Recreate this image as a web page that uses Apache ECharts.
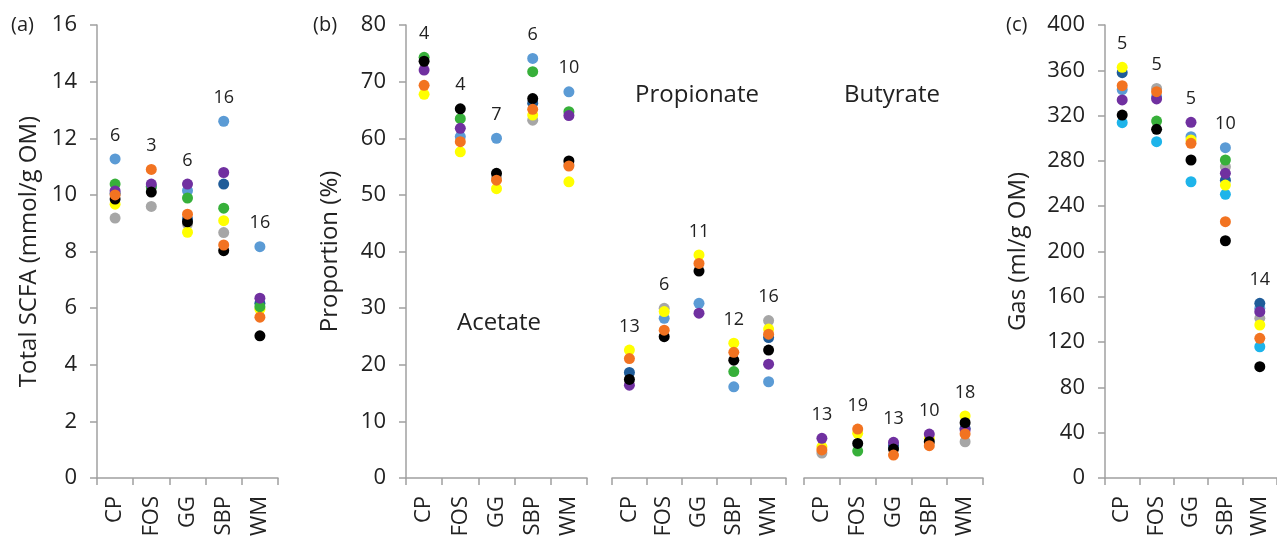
<!DOCTYPE html>
<html><head><meta charset="utf-8">
<script src="https://cdn.jsdelivr.net/npm/echarts@6/dist/echarts.min.js"></script>
<style>html,body{margin:0;padding:0;background:#fff}#c{width:1277px;height:545px}</style>
</head><body><div id="c"></div>
<script>
// ---------- data ----------
const categories = ['CP', 'FOS', 'GG', 'SBP', 'WM'];
// series order (drawing order, bottom -> top)
const groupNames = ['gray', 'cyan', 'lightblue', 'darkblue', 'yellow', 'green', 'purple', 'black', 'orange'];
const groupColors = ['#A6A6A6', '#1EB4EA', '#5B9BD5', '#1F5C99', '#FFFF00', '#37B03A', '#7030A0', '#000000', '#F27321'];

// (a) Total SCFA (mmol/g OM): rows follow groupNames, columns follow categories
const scfaData = [
  [9.18, 9.59, 8.97, 8.67, null],
  [null, null, null, null, null],
  [11.27, 10.3, 10.15, 12.6, 8.17],
  [10.05, null, 9.15, 10.38, 6.17],
  [9.67, null, 8.68, 9.09, 5.96],
  [10.38, 10.28, 9.89, 9.53, 6.05],
  [10.14, 10.38, 10.38, 10.79, 6.35],
  [9.85, 10.1, 9.05, 8.03, 5.02],
  [10.0, 10.9, 9.32, 8.23, 5.68]
];
const scfaN = [6, 3, 6, 16, 16];

// (b) Acetate proportion (%)
const acetateData = [
  [null, null, 53.2, 63.2, 55.3],
  [null, null, null, null, null],
  [null, 60.3, 60.0, 74.1, 68.2],
  [null, null, null, 66.2, null],
  [67.75, 57.6, 51.1, 64.1, 52.3],
  [74.3, 63.45, null, 71.75, 64.7],
  [72.05, 61.75, null, null, 64.0],
  [73.6, 65.2, 53.8, 67.0, 56.0],
  [69.35, 59.4, 52.6, 65.1, 55.1]
];
const acetateN = [4, 4, 7, 6, 10];

// (b) Propionate proportion (%)
const propionateData = [
  [null, 29.97, null, null, 27.8],
  [null, null, null, null, null],
  [null, 28.2, 30.85, 16.1, 17.0],
  [18.65, null, null, null, 24.8],
  [22.6, 29.4, 39.4, 23.8, 26.3],
  [null, null, null, 18.8, null],
  [16.4, null, 29.1, null, 20.1],
  [17.4, 24.95, 36.55, 20.8, 22.6],
  [21.1, 26.1, 37.9, 22.2, 25.4]
];
const propionateN = [13, 6, 11, 12, 16];

// (b) Butyrate proportion (%)
const butyrateData = [
  [4.4, null, null, null, 6.4],
  [null, null, null, null, null],
  [null, null, null, null, null],
  [null, null, 5.7, null, 8.77],
  [5.5, 7.9, null, 7.0, 10.95],
  [null, 4.75, null, null, null],
  [7.0, null, 6.3, 7.75, 8.5],
  [null, 6.1, 5.1, 6.4, 9.77],
  [4.95, 8.65, 4.05, 5.7, 7.77]
];
const butyrateN = [13, 19, 13, 10, 18];

// (c) Gas (ml/g OM)
const gasData = [
  [null, 344, null, 274.9, 141],
  [313.7, 297, 261.6, 250.5, 115.9],
  [343, 336.7, 301.4, 291.7, 149.8],
  [357.9, null, null, 263, 154.2],
  [362.6, null, 298.5, 258.7, 135.1],
  [null, 315.2, null, 280.8, null],
  [333.8, 334.7, 314.1, 269, 146.9],
  [320.5, 307.9, 280.8, 209.5, 98.3],
  [346.4, 341.1, 295.5, 226.3, 123.3]
];
const gasN = [5, 5, 5, 10, 14];

const yTicksA = {min: 0, max: 16, interval: 2};
const yTicksB = {min: 0, max: 80, interval: 10};
const yTicksC = {min: 0, max: 400, interval: 40};

// ---------- chart ----------
const FONT = 'Open Sans';
const TXT = '#222222';
const AX = '#A0A0A0';

const panels = [
  {data: scfaData, n: scfaN, grid: {left: 97, width: 181}, y: yTicksA, showY: true, name: 'Total SCFA (mmol/g OM)', nameGap: 56},
  {data: acetateData, n: acetateN, grid: {left: 406, width: 181}, y: yTicksB, showY: true, name: 'Proportion (%)', nameGap: 64},
  {data: propionateData, n: propionateN, grid: {left: 612, width: 174}, y: yTicksB, showY: false},
  {data: butyrateData, n: butyrateN, grid: {left: 804, width: 179}, y: yTicksB, showY: false},
  {data: gasData, n: gasN, grid: {left: 1105, width: 179}, y: yTicksC, showY: true, name: 'Gas (ml/g OM)', nameGap: 75}
];

const grids = [], xAxes = [], yAxes = [], series = [];
panels.forEach((p, pi) => {
  grids.push({left: p.grid.left, width: p.grid.width, top: 25, height: 453, containLabel: false});
  xAxes.push({
    type: 'category', gridIndex: pi, data: categories, boundaryGap: true,
    axisLine: {show: true, lineStyle: {color: AX, width: 1.5}},
    axisTick: {show: true, length: 7, inside: false, lineStyle: {color: AX, width: 1.5}},
    axisLabel: {rotate: 90, margin: 18, fontFamily: FONT, fontSize: 22, color: TXT, interval: 0},
    splitLine: {show: false}
  });
  yAxes.push({
    type: 'value', gridIndex: pi, min: p.y.min, max: p.y.max, interval: p.y.interval,
    show: p.showY,
    name: p.name || '', nameLocation: 'middle', nameGap: p.nameGap || 0,
    nameTextStyle: {fontFamily: FONT, fontSize: 24, color: TXT},
    axisLine: {show: true, lineStyle: {color: AX, width: 1.5}},
    axisTick: {show: true, length: 7, lineStyle: {color: AX, width: 1.5}},
    axisLabel: {margin: 20, fontFamily: FONT, fontSize: 22, color: TXT},
    splitLine: {show: false}
  });
  p.data.forEach((row, gi) => {
    series.push({
      type: 'scatter', name: groupNames[gi], xAxisIndex: pi, yAxisIndex: pi,
      symbol: 'circle', symbolSize: 11, silent: true,
      itemStyle: {color: groupColors[gi], opacity: 1},
      data: row.map(v => v == null ? '-' : v)
    });
  });
  // n labels above the highest point of each category
  const maxes = categories.map((c, ci) => Math.max(...p.data.map(r => r[ci]).filter(v => v != null)));
  series.push({
    type: 'scatter', xAxisIndex: pi, yAxisIndex: pi, symbol: 'circle', symbolSize: 11, silent: true,
    itemStyle: {color: TXT, opacity: 0}, z: 10,
    label: {show: true, position: 'top', distance: 9, fontFamily: FONT, fontSize: 18, color: TXT, opacity: 1},
    labelLayout: {},
    data: maxes.map((v, i) => ({value: v, label: {formatter: String(p.n[i])}}))
  });
});

const txt = (x, y, s, size, align) => ({type: 'text', x: x, y: y, z: 20,
  style: {text: s, fontFamily: FONT, fontSize: size, fill: TXT, align: align || 'left', verticalAlign: 'middle'}});

const option = {
  animation: false,
  grid: grids, xAxis: xAxes, yAxis: yAxes, series: series,
  graphic: [
    txt(11, 25, '(a)', 20),
    txt(313, 25, '(b)', 20),
    txt(1006, 25, '(c)', 20),
    txt(499, 323, 'Acetate', 24, 'center'),
    txt(697, 95, 'Propionate', 24, 'center'),
    txt(892, 95, 'Butyrate', 24, 'center')
  ]
};
const chart = echarts.init(document.getElementById('c'), null, {renderer: 'canvas'});
chart.setOption(option);
</script></body></html>
